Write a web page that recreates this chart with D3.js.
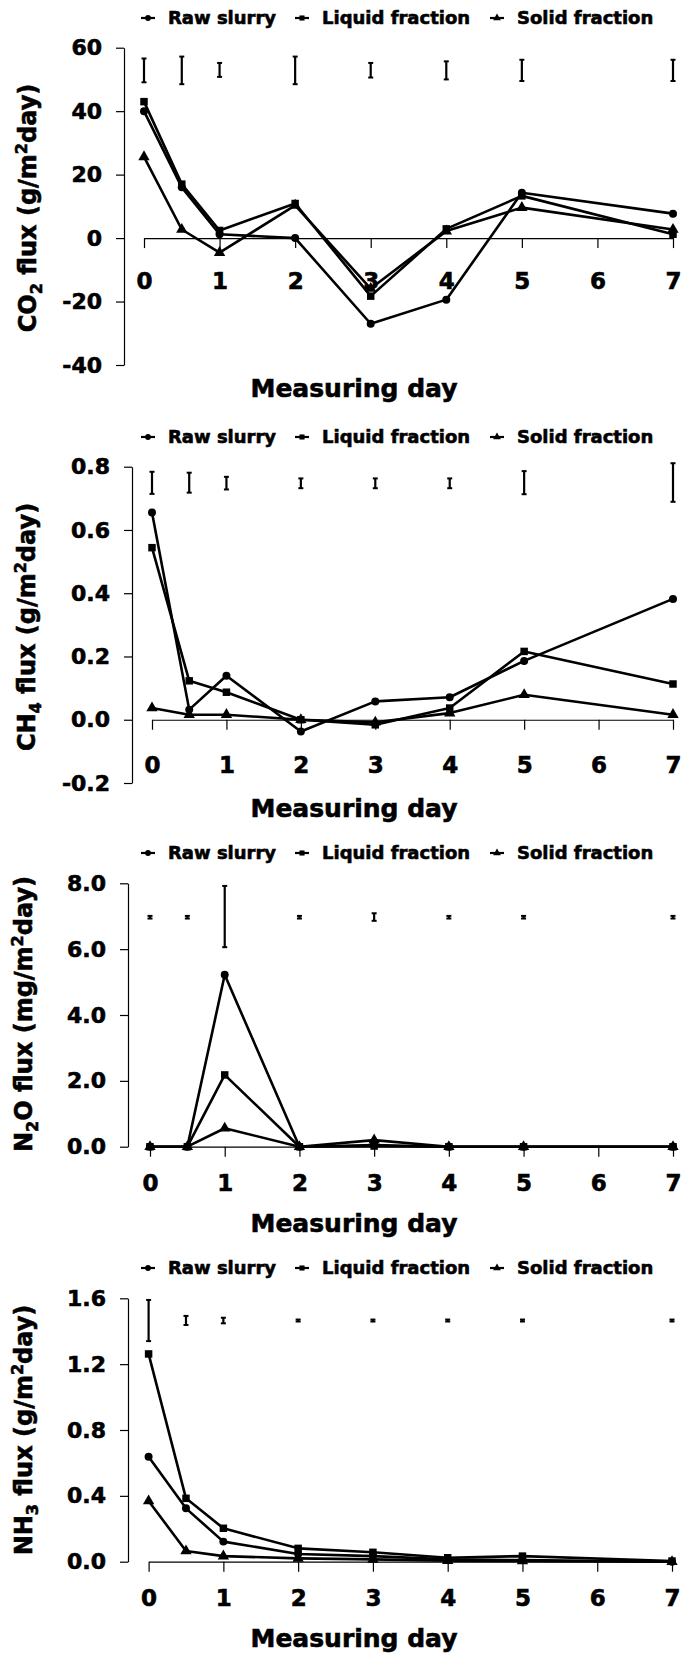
<!DOCTYPE html>
<html>
<head>
<meta charset="utf-8">
<script src="https://cdn.jsdelivr.net/npm/d3@7"></script>
<style>
  body { margin: 0; background: #fff; }
  svg text { font-family: 'DejaVu Sans', sans-serif; font-weight: bold; fill: #000; stroke: #000; stroke-width: 0.6px; }
</style>
</head>
<body>
<svg id="chart"></svg>
<script>
const days = [0, 0.5, 1, 2, 3, 4, 5, 7]
const xTicks = [0, 1, 2, 3, 4, 5, 6, 7]
const seriesNames = ['Raw slurry', 'Liquid fraction', 'Solid fraction']

// CO2 (g/m2day)
const co2Raw = [40, 16, 1.2, 0, -27, -19.4, 14.3, 7.7]
const co2Liquid = [43, 17, 2.4, 10.9, -18.3, 2.9, 13.3, 1.2]
const co2Solid = [25.6, 2.7, -4.6, 10.3, -15.9, 2.2, 9.6, 2.7]
const co2ErrLow = [49.1, 48.5, 50.8, 48.5, 50.6, 50, 49.5, 49.5]
const co2ErrHigh = [56.6, 57.2, 55.2, 57.2, 55.2, 55.7, 56.2, 56.2]
const co2Ticks = [-40, -20, 0, 20, 40, 60]

// CH4 (g/m2day)
const ch4Raw = [0.655, 0.032, 0.139, -0.037, 0.058, 0.071, 0.186, 0.382]
const ch4Liquid = [0.544, 0.123, 0.087, 0.0, -0.016, 0.037, 0.216, 0.113]
const ch4Solid = [0.037, 0.016, 0.016, 0.0, -0.008, 0.021, 0.079, 0.016]
const ch4ErrLow = [0.714, 0.718, 0.728, 0.732, 0.732, 0.732, 0.713, 0.689]
const ch4ErrHigh = [0.784, 0.781, 0.768, 0.763, 0.763, 0.763, 0.786, 0.811]
const ch4Ticks = [-0.2, 0, 0.2, 0.4, 0.6, 0.8]

// N2O (mg/m2day)
const n2oRaw = [0, 0, 5.22, 0, 0.05, 0, 0, 0]
const n2oLiquid = [0, 0, 2.18, 0, 0.02, 0, 0, 0]
const n2oSolid = [0, 0, 0.56, 0, 0.2, 0, 0, 0]
const n2oErrLow = [6.93, 6.93, 6.06, 6.93, 6.86, 6.93, 6.93, 6.93]
const n2oErrHigh = [7.01, 7.01, 7.92, 7.01, 7.09, 7.01, 7.01, 7.01]
const n2oTicks = [0, 2, 4, 6, 8]

// NH3 (g/m2day)
const nh3Raw = [0.638, 0.324, 0.122, 0.047, 0.034, 0.014, 0.01, 0.0]
const nh3Liquid = [1.262, 0.385, 0.203, 0.081, 0.057, 0.024, 0.034, 0.004]
const nh3Solid = [0.369, 0.065, 0.034, 0.02, 0.014, 0.006, 0.004, 0.0]
const nh3ErrLow = [1.34, 1.438, 1.448, 1.459, 1.459, 1.459, 1.459, 1.459]
const nh3ErrHigh = [1.59, 1.493, 1.482, 1.471, 1.471, 1.471, 1.471, 1.471]
const nh3Ticks = [0, 0.4, 0.8, 1.2, 1.6]

const width = 683
const height = 1655

const svg = d3.select('#chart')
  .attr('width', width)
  .attr('height', height)

const symbols = [d3.symbolCircle, d3.symbolSquare, d3.symbolTriangle]
const symbolSizes = [50, 56, 56]

function drawPanel (p) {
  const g = svg.append('g')

  const x = d3.scaleLinear().domain([0, 7]).range([p.x0, p.x7])
  const y = d3.scaleLinear().domain(p.yDomain).range([p.yBot, p.yTop])

  // y axis
  const yAxis = d3.axisLeft(y)
    .tickValues(p.yTicks)
    .tickSize(8)
    .tickSizeOuter(0)
    .tickPadding(14)
    .tickFormat(p.fmt)
  const ya = g.append('g')
    .attr('transform', `translate(${p.axisX},0)`)
    .call(yAxis)
  ya.selectAll('path, line').attr('stroke', '#000').attr('stroke-width', 1.2)
  ya.selectAll('text').style('font-size', '22px')

  // x axis at zero
  const xAxis = d3.axisBottom(x)
    .tickValues(xTicks)
    .tickSize(10)
    .tickSizeOuter(0)
    .tickFormat(d3.format('d'))
  const xa = g.append('g')
    .attr('transform', `translate(0,${y(0)})`)
    .call(xAxis)
  xa.selectAll('path, line').attr('stroke', '#000').attr('stroke-width', 1.2)
  xa.selectAll('text')
    .style('font-size', '23px')
    .attr('y', p.labelOff)
    .attr('dy', '0.36em')

  // error bars
  const eb = g.append('g')
  days.forEach((d, i) => {
    const cx = x(d)
    const y1 = y(p.errLow[i])
    const y2 = y(p.errHigh[i])
    eb.append('line').attr('x1', cx).attr('x2', cx).attr('y1', y1).attr('y2', y2)
      .attr('stroke', '#000').attr('stroke-width', 2.2)
    eb.append('line').attr('x1', cx - 2.5).attr('x2', cx + 2.5).attr('y1', y1).attr('y2', y1)
      .attr('stroke', '#000').attr('stroke-width', 2)
    eb.append('line').attr('x1', cx - 2.5).attr('x2', cx + 2.5).attr('y1', y2).attr('y2', y2)
      .attr('stroke', '#000').attr('stroke-width', 2)
  })

  // series
  const line = d3.line()
    .x((d, i) => x(days[i]))
    .y(d => y(d))

  p.series.forEach((vals, si) => {
    g.append('path')
      .attr('d', line(vals))
      .attr('fill', 'none')
      .attr('stroke', '#000')
      .attr('stroke-width', 2.6)
      .attr('stroke-linejoin', 'round')
    g.selectAll(null)
      .data(vals)
      .enter()
      .append('path')
      .attr('d', d3.symbol().type(symbols[si]).size(symbolSizes[si]))
      .attr('transform', (d, i) => `translate(${x(days[i])},${y(d)})`)
      .attr('fill', '#000')
  })

  // legend
  const legendX = [168, 322, 517]
  seriesNames.forEach((name, si) => {
    const lx = legendX[si] - 20
    g.append('line')
      .attr('x1', lx - 7).attr('x2', lx + 7)
      .attr('y1', p.legendY).attr('y2', p.legendY)
      .attr('stroke', '#000').attr('stroke-width', 2.2)
    g.append('path')
      .attr('d', d3.symbol().type(symbols[si]).size(26))
      .attr('transform', `translate(${lx},${p.legendY})`)
      .attr('fill', '#000')
    g.append('text')
      .attr('x', legendX[si])
      .attr('y', p.legendY)
      .attr('dy', '0.36em')
      .style('font-size', '18px')
      .text(name)
  })

  // x title
  g.append('text')
    .attr('x', 354)
    .attr('y', p.titleY)
    .attr('dy', '0.36em')
    .attr('text-anchor', 'middle')
    .style('font-size', '25px')
    .text('Measuring day')

  // y title with sub- and superscript
  const yt = g.append('text')
    .attr('transform', `translate(${p.ytitleX},${p.ytitleY}) rotate(-90)`)
    .attr('text-anchor', 'middle')
    .attr('dy', '0.36em')
    .style('font-size', '24px')
  yt.append('tspan').text(p.yLabel[0])
  yt.append('tspan').attr('dy', 6).style('font-size', '16px').text(p.yLabel[1])
  yt.append('tspan').attr('dy', -6).text(p.yLabel[2])
  yt.append('tspan').attr('dy', -9).style('font-size', '16px').text('2')
  yt.append('tspan').attr('dy', 9).text('day)')
}

const fmt1 = d => d.toFixed(1)

drawPanel({
  axisX: 124, x0: 144, x7: 673, yTop: 47.7, yBot: 365, yDomain: [-40, 60],
  yTicks: co2Ticks, fmt: d => String(d), labelOff: 43, titleY: 388, legendY: 18,
  ytitleX: 27, ytitleY: 208, yLabel: ['CO', '2', ' flux (g/m'],
  series: [co2Raw, co2Liquid, co2Solid], errLow: co2ErrLow, errHigh: co2ErrHigh
})

drawPanel({
  axisX: 132, x0: 152, x7: 673, yTop: 466.7, yBot: 783, yDomain: [-0.2, 0.8],
  yTicks: ch4Ticks, fmt: fmt1, labelOff: 45, titleY: 808, legendY: 437,
  ytitleX: 26, ytitleY: 627, yLabel: ['CH', '4', ' flux (g/m'],
  series: [ch4Raw, ch4Liquid, ch4Solid], errLow: ch4ErrLow, errHigh: ch4ErrHigh
})

drawPanel({
  axisX: 128, x0: 150, x7: 673, yTop: 883.3, yBot: 1146.7, yDomain: [0, 8],
  yTicks: n2oTicks, fmt: fmt1, labelOff: 36, titleY: 1223, legendY: 853,
  ytitleX: 23, ytitleY: 1014, yLabel: ['N', '2', 'O flux (mg/m'],
  series: [n2oRaw, n2oLiquid, n2oSolid], errLow: n2oErrLow, errHigh: n2oErrHigh
})

drawPanel({
  axisX: 128, x0: 148.6, x7: 672, yTop: 1298.3, yBot: 1561.7, yDomain: [0, 1.6],
  yTicks: nh3Ticks, fmt: fmt1, labelOff: 36, titleY: 1638, legendY: 1268,
  ytitleX: 23, ytitleY: 1430, yLabel: ['NH', '3', ' flux (g/m'],
  series: [nh3Raw, nh3Liquid, nh3Solid], errLow: nh3ErrLow, errHigh: nh3ErrHigh
})
</script>
</body>
</html>
